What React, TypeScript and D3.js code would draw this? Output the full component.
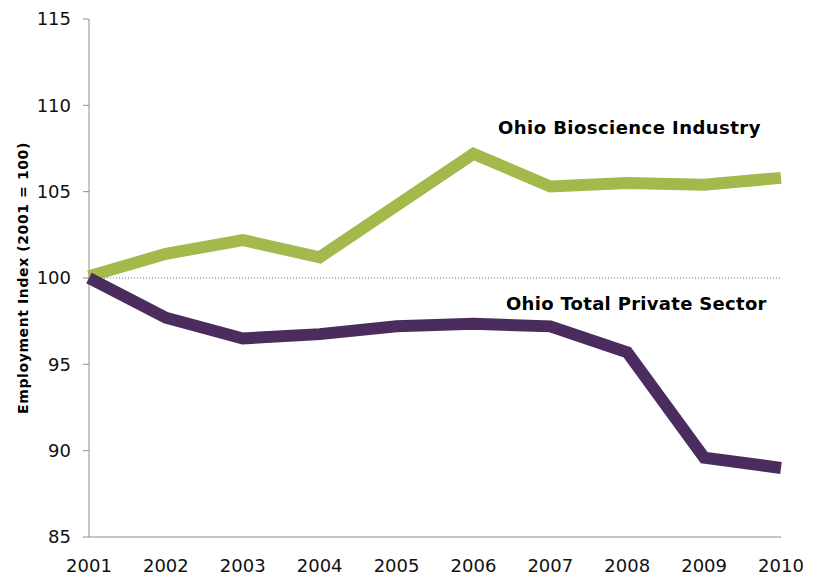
import React from "react";
import * as d3 from "d3";

const years = [2001, 2002, 2003, 2004, 2005, 2006, 2007, 2008, 2009, 2010];
const bioscience = [100.1, 101.4, 102.2, 101.2, 104.2, 107.2, 105.3, 105.5, 105.4, 105.8];
const privateSector = [100.0, 97.7, 96.5, 96.75, 97.2, 97.35, 97.2, 95.7, 89.6, 89.0];
const yTicks = [85, 90, 95, 100, 105, 110, 115];

const W = 814;
const H = 575;
const left = 89;
const right = 781;
const top = 19;
const bottom = 537;

export default function App() {
  const x = d3.scaleLinear().domain([2001, 2010]).range([left, right]);
  const y = d3.scaleLinear().domain([85, 115]).range([bottom, top]);
  const line = d3
    .line<number>()
    .x((_, i) => x(years[i]))
    .y((d) => y(d));
  const font = "Verdana, 'DejaVu Sans', sans-serif";
  return (
    <svg
      width={W}
      height={H}
      style={{ position: "absolute", left: 0, top: 0, background: "#fff" }}
    >
      {/* reference line at 100 */}
      <line
        x1={left}
        x2={right}
        y1={y(100)}
        y2={y(100)}
        stroke="#7a6a60"
        strokeWidth={1}
        strokeDasharray="1 2"
      />
      {/* axes */}
      <line x1={left} x2={left} y1={top} y2={bottom} stroke="#8c8c8c" strokeWidth={1} />
      <line x1={left} x2={right} y1={bottom} y2={bottom} stroke="#8c8c8c" strokeWidth={1} />
      {yTicks.map((t) => (
        <g key={t}>
          <line x1={left - 6} x2={left} y1={y(t)} y2={y(t)} stroke="#8c8c8c" />
          <text
            x={71}
            y={y(t)}
            dy="0.35em"
            textAnchor="end"
            fontFamily={font}
            fontSize={18}
            fill="#111"
          >
            {t}
          </text>
        </g>
      ))}
      {years.map((yr) => (
        <text
          key={yr}
          x={x(yr)}
          y={572}
          textAnchor="middle"
          fontFamily={font}
          fontSize={18}
          fill="#111"
        >
          {yr}
        </text>
      ))}
      <text
        transform={`translate(28, ${y(100)}) rotate(-90)`}
        textAnchor="middle"
        fontFamily={font}
        fontSize={14}
        fontWeight="bold"
        letterSpacing={0.6}
        fill="#000"
      >
        Employment Index (2001 = 100)
      </text>
      <path
        d={line(bioscience) || ""}
        fill="none"
        stroke="#a4b94b"
        strokeWidth={12}
        strokeLinejoin="miter"
      />
      <path
        d={line(privateSector) || ""}
        fill="none"
        stroke="#4b2c5e"
        strokeWidth={12}
        strokeLinejoin="miter"
      />
      <text
        x={498}
        y={134}
        fontFamily={font}
        fontSize={18}
        fontWeight="bold"
        letterSpacing={0.45}
        fill="#000"
      >
        Ohio Bioscience Industry
      </text>
      <text
        x={506}
        y={310}
        fontFamily={font}
        fontSize={18}
        fontWeight="bold"
        letterSpacing={0.3}
        fill="#000"
      >
        Ohio Total Private Sector
      </text>
    </svg>
  );
}
